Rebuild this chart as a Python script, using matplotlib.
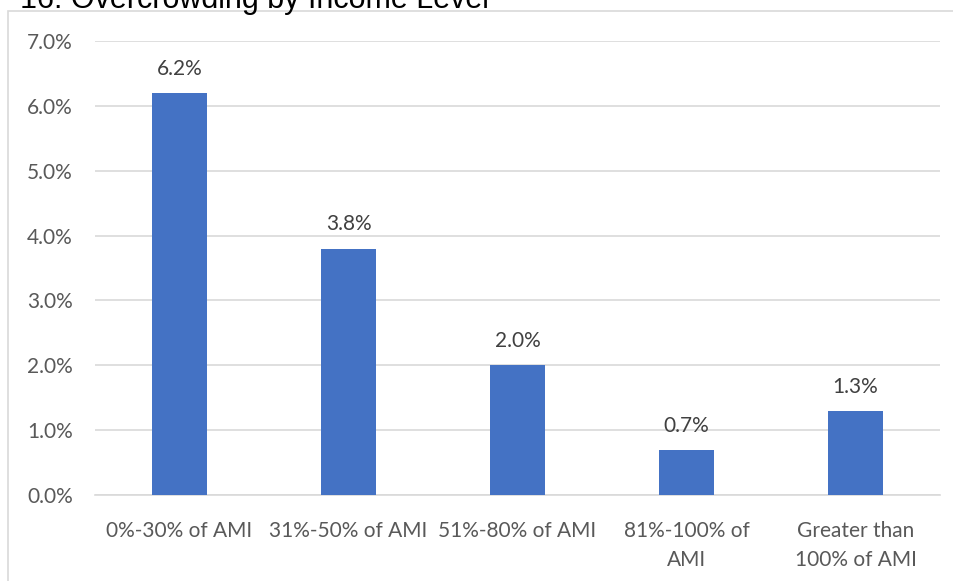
import matplotlib
matplotlib.use("Agg")
import matplotlib.pyplot as plt
from matplotlib.patches import Rectangle
from matplotlib.ticker import FuncFormatter

categories = ["0%-30% of AMI", "31%-50% of AMI", "51%-80% of AMI", "81%-100% of\nAMI", "Greater than\n100% of AMI"]
values = [6.2, 3.8, 2.0, 0.7, 1.3]
title = "16. Overcrowding by Income Level"

W, H = 954, 581
fig = plt.figure(figsize=(W / 100, H / 100), dpi=100)
plt.rcParams['font.family'] = ['Lato', 'DejaVu Sans']

# chart border
fig.patches.append(Rectangle((8 / W, -0.1), 1.2, 1 - 11 / H + 0.1, transform=fig.transFigure,
                             fill=False, edgecolor="#D9D9D9", linewidth=1.2))

fig.text(20 / W, 1 - 8 / H, title, fontsize=22, family="Liberation Sans", color="black", va="baseline", ha="left")

ax = fig.add_axes([95 / W, 1 - 495 / H, (940 - 95) / W, (495 - 41) / H])
x = range(len(categories))
bars = ax.bar(x, values, width=0.32, color="#4472C4", zorder=3)
ax.set_xlim(-0.5, len(categories) - 0.5)
ax.set_ylim(0, 7.0)
ax.set_yticks([i for i in range(8)])
ax.yaxis.set_major_formatter(FuncFormatter(lambda v, p: f"{v:.1f}%"))
ax.set_xticks(list(x))
ax.set_xticklabels(categories, linespacing=1.55)
ax.grid(axis="y", color="#D9D9D9", linewidth=1.2, zorder=0)
for s in ["top", "right", "left"]:
    ax.spines[s].set_visible(False)
ax.spines["bottom"].set_color("#D9D9D9")
ax.spines["bottom"].set_linewidth(1.2)
ax.tick_params(axis="both", length=0, labelsize=15, colors="#595959")
ax.tick_params(axis="x", pad=19)
ax.tick_params(axis="y", pad=16)
for xi, v in zip(x, values):
    ax.annotate(f"{v:.1f}%", (xi, v), xytext=(0, 13), textcoords="offset points",
                ha="center", va="baseline", fontsize=15, color="#404040")

fig.savefig("out.png", dpi=100)
